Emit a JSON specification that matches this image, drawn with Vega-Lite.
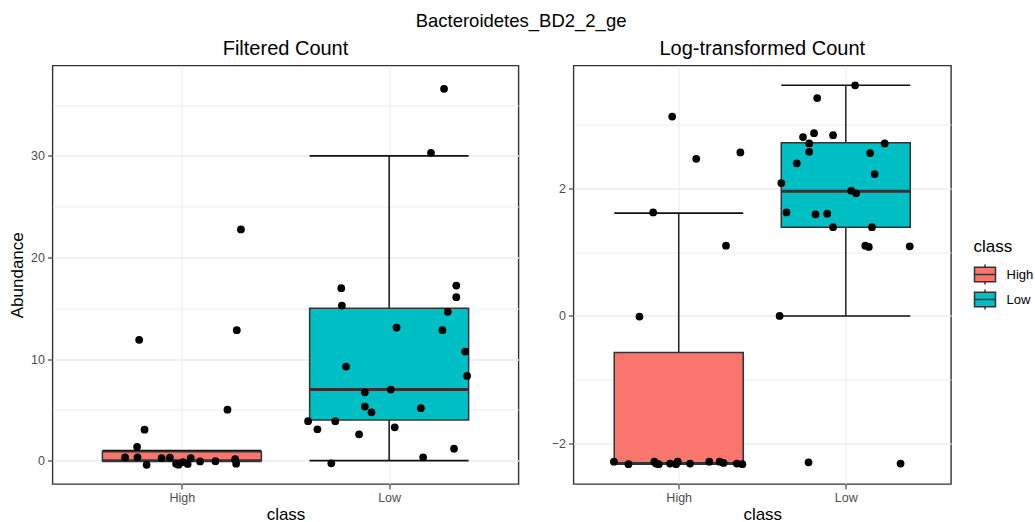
{
  "$schema": "https://vega.github.io/schema/vega-lite/v6.json",
  "background": "white",
  "padding": {"left": 7.5, "top": 11.5, "right": 0, "bottom": 0},
  "title": {"text": "Bacteroidetes_BD2_2_ge", "anchor": "middle", "fontSize": 18.5, "font": "Liberation Sans", "fontWeight": "normal", "color": "black", "offset": 7},
  "datasets": {
    "fpts": [
      {"class": "High", "x": 0.794, "value": 11.89},
      {"class": "High", "x": 1.285, "value": 22.76},
      {"class": "High", "x": 1.265, "value": 12.84},
      {"class": "High", "x": 1.22, "value": 5.02},
      {"class": "High", "x": 0.82, "value": 3.05},
      {"class": "High", "x": 0.784, "value": 1.36},
      {"class": "High", "x": 0.726, "value": 0.32},
      {"class": "High", "x": 0.786, "value": 0.33},
      {"class": "High", "x": 0.83, "value": -0.41},
      {"class": "High", "x": 0.902, "value": 0.25},
      {"class": "High", "x": 0.942, "value": 0.3},
      {"class": "High", "x": 0.972, "value": -0.3},
      {"class": "High", "x": 0.984, "value": -0.4},
      {"class": "High", "x": 1.005, "value": -0.15},
      {"class": "High", "x": 1.028, "value": -0.33},
      {"class": "High", "x": 1.043, "value": 0.25},
      {"class": "High", "x": 1.088, "value": -0.08},
      {"class": "High", "x": 1.162, "value": -0.05},
      {"class": "High", "x": 1.257, "value": 0.14},
      {"class": "High", "x": 1.262, "value": -0.3},
      {"class": "Low", "x": 2.265, "value": 36.6},
      {"class": "Low", "x": 2.202, "value": 30.31},
      {"class": "Low", "x": 1.769, "value": 16.98},
      {"class": "Low", "x": 1.772, "value": 15.27},
      {"class": "Low", "x": 2.324, "value": 17.24},
      {"class": "Low", "x": 2.324, "value": 16.09},
      {"class": "Low", "x": 2.283, "value": 14.65},
      {"class": "Low", "x": 2.036, "value": 13.1},
      {"class": "Low", "x": 2.257, "value": 12.84},
      {"class": "Low", "x": 2.367, "value": 10.74},
      {"class": "Low", "x": 2.376, "value": 8.34},
      {"class": "Low", "x": 1.792, "value": 9.26},
      {"class": "Low", "x": 2.008, "value": 7.0},
      {"class": "Low", "x": 1.883, "value": 6.73},
      {"class": "Low", "x": 1.883, "value": 5.32},
      {"class": "Low", "x": 1.915, "value": 4.76},
      {"class": "Low", "x": 2.153, "value": 5.16},
      {"class": "Low", "x": 1.609, "value": 3.88},
      {"class": "Low", "x": 1.74, "value": 3.88},
      {"class": "Low", "x": 1.654, "value": 3.09},
      {"class": "Low", "x": 2.027, "value": 3.28},
      {"class": "Low", "x": 1.855, "value": 2.59},
      {"class": "Low", "x": 2.313, "value": 1.18},
      {"class": "Low", "x": 2.164, "value": 0.33},
      {"class": "Low", "x": 1.721, "value": -0.26}
    ],
    "fbox": [
      {"class": "High", "x": 1, "lower": 0, "q1": 0, "median": 0, "q3": 0.88, "upper": 1.0},
      {"class": "Low", "x": 2, "lower": 0, "q1": 4.0, "median": 7.0, "q3": 15.0, "upper": 30.0}
    ],
    "lpts": [
      {"class": "High", "x": 0.961, "value": 3.12},
      {"class": "High", "x": 1.105, "value": 2.46},
      {"class": "High", "x": 1.369, "value": 2.56},
      {"class": "High", "x": 0.847, "value": 1.62},
      {"class": "High", "x": 1.283, "value": 1.1},
      {"class": "High", "x": 0.765, "value": -0.01},
      {"class": "High", "x": 0.612, "value": -2.28},
      {"class": "High", "x": 0.699, "value": -2.32},
      {"class": "High", "x": 0.854, "value": -2.28},
      {"class": "High", "x": 0.864, "value": -2.31},
      {"class": "High", "x": 0.88, "value": -2.32},
      {"class": "High", "x": 0.948, "value": -2.31},
      {"class": "High", "x": 0.984, "value": -2.32},
      {"class": "High", "x": 0.994, "value": -2.28},
      {"class": "High", "x": 1.068, "value": -2.31},
      {"class": "High", "x": 1.183, "value": -2.28},
      {"class": "High", "x": 1.245, "value": -2.28},
      {"class": "High", "x": 1.268, "value": -2.3},
      {"class": "High", "x": 1.348, "value": -2.31},
      {"class": "High", "x": 1.381, "value": -2.32},
      {"class": "Low", "x": 2.056, "value": 3.61},
      {"class": "Low", "x": 1.829, "value": 3.41},
      {"class": "Low", "x": 1.81, "value": 2.86},
      {"class": "Low", "x": 1.924, "value": 2.83},
      {"class": "Low", "x": 1.744, "value": 2.8},
      {"class": "Low", "x": 1.781, "value": 2.7},
      {"class": "Low", "x": 2.233, "value": 2.7},
      {"class": "Low", "x": 1.781, "value": 2.57},
      {"class": "Low", "x": 2.146, "value": 2.55},
      {"class": "Low", "x": 1.707, "value": 2.39},
      {"class": "Low", "x": 2.173, "value": 2.22},
      {"class": "Low", "x": 1.614, "value": 2.08},
      {"class": "Low", "x": 2.033, "value": 1.96},
      {"class": "Low", "x": 2.062, "value": 1.92},
      {"class": "Low", "x": 1.645, "value": 1.62},
      {"class": "Low", "x": 1.819, "value": 1.59},
      {"class": "Low", "x": 1.889, "value": 1.6},
      {"class": "Low", "x": 1.924, "value": 1.39},
      {"class": "Low", "x": 2.157, "value": 1.39},
      {"class": "Low", "x": 2.117, "value": 1.1},
      {"class": "Low", "x": 2.138, "value": 1.08},
      {"class": "Low", "x": 2.383, "value": 1.09},
      {"class": "Low", "x": 1.604, "value": 0.0},
      {"class": "Low", "x": 1.777, "value": -2.29},
      {"class": "Low", "x": 2.328, "value": -2.31}
    ],
    "lbox": [
      {"class": "High", "x": 1, "lower": -2.31, "q1": -2.31, "median": -2.31, "q3": -0.573, "upper": 1.61},
      {"class": "Low", "x": 2, "lower": 0, "q1": 1.39, "median": 1.95, "q3": 2.71, "upper": 3.61}
    ]
  },
  "spacing": 31,
  "resolve": {"scale": {"x": "independent", "y": "independent", "fill": "independent"}, "legend": {"fill": "independent"}},
  "hconcat": [
    {
      "width": 466,
      "height": 418.5,
      "title": {"text": "Filtered Count", "fontSize": 20, "anchor": "middle", "offset": 7},
      "encoding": {
        "x": {"field": "x", "type": "quantitative", "scale": {"domain": [0.4, 2.6], "nice": false, "zero": false},
              "axis": {"values": [1, 2], "labelExpr": "datum.value == 1 ? 'High' : 'Low'", "title": "class"}}
      },
      "layer": [
        {"data": {"name": "fbox"}, "mark": {"type": "rule", "color": "#222222", "strokeWidth": 1.6},
         "encoding": {"y": {"field": "lower", "type": "quantitative", "scale": {"domain": [-2.3, 38.9], "nice": false, "zero": false},
            "axis": {"values": [0, 5, 10, 15, 20, 25, 30, 35], "format": "d", "labelExpr": "datum.value % 10 == 0 ? datum.label : ''", "title": "Abundance",
              "tickOpacity": {"condition": {"test": "datum.value % 10 != 0", "value": 0}, "value": 1},
              "gridWidth": {"condition": {"test": "datum.value % 10 != 0", "value": 0.9}, "value": 1.6}}},
           "y2": {"field": "upper"}}},
        {"data": {"name": "fbox"}, "mark": {"type": "tick", "orient": "horizontal", "color": "#111111", "size": 159, "thickness": 1.6, "opacity": 1},
         "encoding": {"y": {"field": "lower", "type": "quantitative"}}},
        {"data": {"name": "fbox"}, "mark": {"type": "tick", "orient": "horizontal", "color": "#111111", "size": 159, "thickness": 1.6, "opacity": 1},
         "encoding": {"y": {"field": "upper", "type": "quantitative"}}},
        {"data": {"name": "fbox"}, "mark": {"type": "bar", "size": 159, "stroke": "#333333", "strokeWidth": 1.5, "opacity": 1},
         "encoding": {"y": {"field": "q1", "type": "quantitative"}, "y2": {"field": "q3"},
           "fill": {"field": "class", "type": "nominal", "scale": {"domain": ["High", "Low"], "range": ["#F8766D", "#00BFC4"]}, "legend": null}}},
        {"data": {"name": "fbox"}, "mark": {"type": "tick", "orient": "horizontal", "color": "#333333", "size": 159, "thickness": 3, "opacity": 1},
         "encoding": {"y": {"field": "median", "type": "quantitative"}}},
        {"data": {"name": "fpts"}, "mark": {"type": "circle", "color": "black", "size": 60, "opacity": 1},
         "encoding": {"y": {"field": "value", "type": "quantitative"}}}
      ]
    },
    {
      "width": 377.5,
      "height": 418.5,
      "title": {"text": "Log-transformed Count", "fontSize": 20, "anchor": "middle", "offset": 7},
      "encoding": {
        "x": {"field": "x", "type": "quantitative", "scale": {"domain": [0.4, 2.6], "nice": false, "zero": false},
              "axis": {"values": [1, 2], "labelExpr": "datum.value == 1 ? 'High' : 'Low'", "title": "class"}}
      },
      "layer": [
        {"data": {"name": "lbox"}, "mark": {"type": "rule", "color": "#2a2a2a", "strokeWidth": 1.6},
         "encoding": {"y": {"field": "lower", "type": "quantitative", "scale": {"domain": [-2.63, 3.92], "nice": false, "zero": false},
            "axis": {"values": [-2, -1, 0, 1, 2, 3], "format": "d", "labelExpr": "datum.value % 2 == 0 ? datum.label : ''", "title": null,
              "tickOpacity": {"condition": {"test": "datum.value % 2 != 0", "value": 0}, "value": 1},
              "gridWidth": {"condition": {"test": "datum.value % 2 != 0", "value": 0.9}, "value": 1.6}}},
           "y2": {"field": "upper"}}},
        {"data": {"name": "lbox"}, "mark": {"type": "tick", "orient": "horizontal", "color": "#111111", "size": 129, "thickness": 1.6, "opacity": 1},
         "encoding": {"y": {"field": "lower", "type": "quantitative"}}},
        {"data": {"name": "lbox"}, "mark": {"type": "tick", "orient": "horizontal", "color": "#111111", "size": 129, "thickness": 1.6, "opacity": 1},
         "encoding": {"y": {"field": "upper", "type": "quantitative"}}},
        {"data": {"name": "lbox"}, "mark": {"type": "bar", "size": 129, "stroke": "#333333", "strokeWidth": 1.5, "opacity": 1},
         "encoding": {"y": {"field": "q1", "type": "quantitative"}, "y2": {"field": "q3"},
           "fill": {"field": "class", "type": "nominal", "scale": {"domain": ["High", "Low"], "range": ["#F8766D", "#00BFC4"]},
             "legend": {"orient": "none", "legendX": 400, "legendY": 173.5, "title": "class", "titleFontSize": 17, "titleFontWeight": "normal", "titleColor": "black", "titlePadding": 7,
               "labelFontSize": 13, "labelColor": "black", "labelOffset": 10, "rowPadding": -2,
               "symbolType": "M-1,-0.68H1V0.68H-1Z M-1,0H1 M0,-0.68V-0.95 M0,0.68V0.95", "symbolSize": 441, "symbolStrokeColor": "#333333", "symbolStrokeWidth": 1.5, "symbolOpacity": 1}}}},
        {"data": {"name": "lbox"}, "mark": {"type": "tick", "orient": "horizontal", "color": "#333333", "size": 129, "thickness": 3, "opacity": 1},
         "encoding": {"y": {"field": "median", "type": "quantitative"}}},
        {"data": {"name": "lpts"}, "mark": {"type": "circle", "color": "black", "size": 60, "opacity": 1},
         "encoding": {"y": {"field": "value", "type": "quantitative"}}}
      ]
    }
  ],
  "config": {
    "font": "Liberation Sans",
    "view": {"stroke": "#333333", "strokeWidth": 1.4},
    "title": {"font": "Liberation Sans", "fontWeight": "normal", "color": "black"},
    "axis": {
      "domain": false,
      "grid": true,
      "gridColor": "#EBEBEB",
      "tickColor": "#333333",
      "tickSize": 5,
      "tickWidth": 1.1,
      "labelColor": "#4D4D4D",
      "labelFontSize": 12.5,
      "labelFont": "Liberation Sans",
      "labelPadding": 3,
      "titleFont": "Liberation Sans",
      "titleFontSize": 17,
      "titleFontWeight": "normal",
      "titleColor": "black",
      "titlePadding": 4
    },
    "axisX": {"labelPadding": 2, "titlePadding": 3},
    "legend": {"labelFont": "Liberation Sans", "titleFont": "Liberation Sans"}
  }
}
